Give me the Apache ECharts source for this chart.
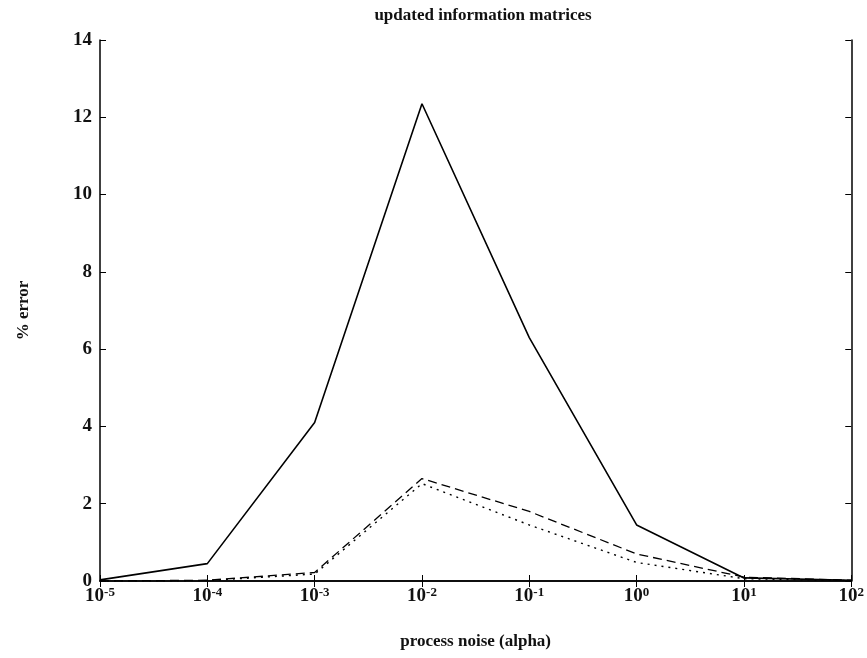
<!DOCTYPE html>
<html>
<head>
<meta charset="utf-8">
<script src="https://cdn.jsdelivr.net/npm/echarts@6/dist/echarts.min.js"></script>
<style>html,body{margin:0;padding:0;background:#fff}#c{width:867px;height:658px}</style>
</head>
<body>
<div id="c"></div>
<script>
const alphas = [1e-5, 1e-4, 1e-3, 1e-2, 1e-1, 1e0, 1e1, 1e2];
const solidErr = [0.03, 0.45, 4.1, 12.35, 6.3, 1.45, 0.08, 0.02];
const dashedErr = [0.0, 0.02, 0.22, 2.65, 1.8, 0.7, 0.1, 0.02];
const dottedErr = [0.0, 0.01, 0.18, 2.52, 1.45, 0.48, 0.06, 0.01];
const yTicks = [0, 2, 4, 6, 8, 10, 12, 14];

const pairs = arr => alphas.map((a, i) => [a, arr[i]]);
const serif = '"Liberation Serif", "DejaVu Serif", serif';

const chart = echarts.init(document.getElementById('c'));
const tickStyle = { show: true, inside: true, length: 6, lineStyle: { color: '#000', width: 1 } };
chart.setOption({
  backgroundColor: '#fff',
  animation: false,
  title: {
    text: 'updated information matrices',
    left: 478, top: 2, textAlign: 'center',
    textStyle: { fontFamily: serif, fontSize: 17, fontWeight: 'bold', color: '#111' }
  },
  grid: { left: 100, right: 11, top: 40, bottom: 77 },
  xAxis: [{
    type: 'log', logBase: 10, min: alphas[0], max: alphas[alphas.length - 1],
    name: 'process noise (alpha)', nameLocation: 'middle', nameGap: 52,
    nameTextStyle: { fontFamily: serif, fontSize: 17, fontWeight: 'bold', color: '#111' },
    axisLine: { show: true, lineStyle: { color: '#000', width: 1.5 } },
    axisTick: tickStyle,
    minorTick: { show: false },
    splitLine: { show: false },
    axisLabel: {
      margin: 5,
      formatter: v => '{b|10}{s|' + Math.round(Math.log10(v)) + '}',
      rich: {
        b: { fontFamily: serif, fontSize: 19, fontWeight: 'bold', color: '#111', verticalAlign: 'bottom' },
        s: { fontFamily: serif, fontSize: 13, fontWeight: 'bold', color: '#111', verticalAlign: 'top', padding: [0, 0, 7, 0] }
      }
    }
  }, {
    type: 'log', logBase: 10, min: alphas[0], max: alphas[alphas.length - 1], position: 'top',
    axisLine: { show: true, lineStyle: { color: '#000', width: 1.5 } },
    axisTick: tickStyle, axisLabel: { show: false }, splitLine: { show: false }
  }],
  yAxis: [{
    type: 'value', min: yTicks[0], max: yTicks[yTicks.length - 1], interval: 2,
    name: '% error', nameLocation: 'middle', nameGap: 68, nameRotate: 90,
    nameTextStyle: { fontFamily: serif, fontSize: 17, fontWeight: 'bold', color: '#111' },
    axisLine: { show: true, lineStyle: { color: '#000', width: 1.5 } },
    axisTick: tickStyle,
    splitLine: { show: false },
    axisLabel: { margin: 8, fontFamily: serif, fontSize: 19, fontWeight: 'bold', color: '#111' }
  }, {
    type: 'value', min: yTicks[0], max: yTicks[yTicks.length - 1], interval: 2, position: 'right',
    axisLine: { show: true, lineStyle: { color: '#000', width: 1.5 } },
    axisTick: tickStyle, axisLabel: { show: false }, splitLine: { show: false }
  }],
  series: [
    { type: 'line', data: pairs(solidErr), symbol: 'none', lineStyle: { color: '#000', width: 1.6, type: 'solid' } },
    { type: 'line', data: pairs(dashedErr), symbol: 'none', lineStyle: { color: '#000', width: 1.3, type: [9, 5] } },
    { type: 'line', data: pairs(dottedErr), symbol: 'none', lineStyle: { color: '#000', width: 1.4, type: [2, 5] } }
  ]
});
</script>
</body>
</html>
